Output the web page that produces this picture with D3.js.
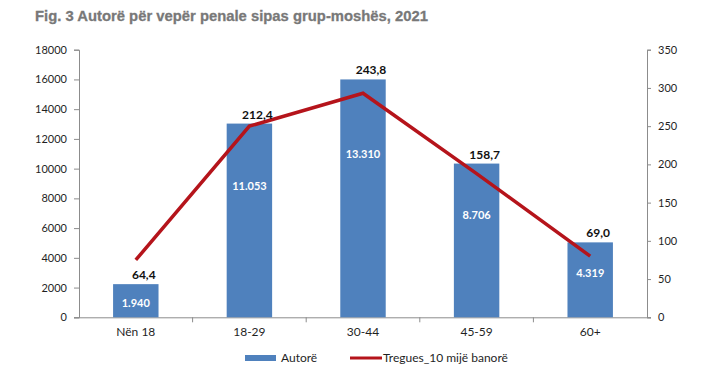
<!DOCTYPE html>
<html>
<head>
<meta charset="utf-8">
<script src="https://cdn.jsdelivr.net/npm/d3@7"></script>
<style>
  html, body { margin: 0; padding: 0; background: #fff; }
  svg { display: block; }
</style>
</head>
<body>
<div id="chart"></div>
<script>
// ---- data ----
const categories = ["Nën 18", "18-29", "30-44", "45-59", "60+"];
const autoreValues = [2230, 13030, 16000, 10340, 5040];        // drawn bar heights
const autoreLabels = ["1.940", "11.053", "13.310", "8.706", "4.319"];
const treguesValues = [75, 250, 293, 188, 80];                 // drawn line points
const treguesLabels = ["64,4", "212,4", "243,8", "158,7", "69,0"];
const leftTicks = [0, 2000, 4000, 6000, 8000, 10000, 12000, 14000, 16000, 18000];
const rightTicks = [0, 50, 100, 150, 200, 250, 300, 350];
const titleText = "Fig. 3 Autorë për vepër penale sipas grup-moshës, 2021";
const legendNames = ["Autorë", "Tregues_10 mijë banorë"];

const W = 702, H = 387;
const plot = { left: 79, right: 647, top: 49.7, bottom: 317.3 };
const font = "Lato, 'Open Sans', sans-serif";
const axisColor = "#8c8c8c";
const barColor = "#4f81bd";
const lineColor = "#b5141b";
const textColor = "#1f1f1f";

const svg = d3.select("#chart").append("svg").attr("width", W).attr("height", H);

svg.append("text")
  .attr("x", 35).attr("y", 21)
  .attr("font-family", "'Liberation Sans', Arial, sans-serif")
  .attr("font-weight", "bold").attr("font-size", 15)
  .attr("fill", "#787878")
  .attr("stroke", "#787878").attr("stroke-width", 0.3)
  .attr("textLength", 393).attr("lengthAdjust", "spacingAndGlyphs")
  .text(titleText);

const x = d3.scaleBand().domain(categories).range([plot.left, plot.right]).paddingInner(0).paddingOuter(0);
const yL = d3.scaleLinear().domain([0, 18000]).range([plot.bottom, plot.top]);
const yR = d3.scaleLinear().domain([0, 350]).range([plot.bottom, plot.top]);
const barW = x.bandwidth() * 0.4;
const cx = d => x(d) + x.bandwidth() / 2;

// left axis
const gL = svg.append("g").attr("transform", `translate(${plot.left},0)`)
  .call(d3.axisLeft(yL).tickValues(leftTicks).tickSize(5).tickPadding(7).tickFormat(d3.format("d")));
// right axis
const gR = svg.append("g").attr("transform", `translate(${plot.right},0)`)
  .call(d3.axisRight(yR).tickValues(rightTicks).tickSize(4).tickPadding(7).tickFormat(d3.format("d")));
// bottom axis
const gB = svg.append("g").attr("transform", `translate(0,${plot.bottom})`)
  .call(d3.axisBottom(x).tickSize(0).tickPadding(10));

[gL, gR, gB].forEach(g => {
  g.selectAll("path.domain").attr("stroke", axisColor).attr("stroke-width", 1);
  g.selectAll(".tick line").attr("stroke", axisColor);
  g.selectAll("text").attr("font-family", font).attr("font-size", 11).attr("fill", textColor);
});
gB.selectAll("text").attr("font-size", 12);
gB.select("path.domain").attr("d", `M${plot.left - 5},0.5H${plot.right + 4}`);
// category boundary ticks
svg.append("g").selectAll("line")
  .data(categories.slice(1))
  .join("line")
  .attr("x1", d => x(d)).attr("x2", d => x(d))
  .attr("y1", plot.bottom).attr("y2", plot.bottom + 5)
  .attr("stroke", axisColor);

// bars
svg.append("g").selectAll("rect")
  .data(categories)
  .join("rect")
  .attr("x", d => cx(d) - barW / 2)
  .attr("width", barW)
  .attr("y", (d, i) => yL(autoreValues[i]))
  .attr("height", (d, i) => plot.bottom - yL(autoreValues[i]))
  .attr("fill", barColor);

// bar value labels (white)
svg.append("g").selectAll("text")
  .data(categories)
  .join("text")
  .attr("x", d => cx(d))
  .attr("y", (d, i) => {
    const top = yL(autoreValues[i]);
    const h = plot.bottom - top;
    return top + 10 + 0.27 * h + 4;
  })
  .attr("text-anchor", "middle")
  .attr("font-family", font).attr("font-weight", "bold").attr("font-size", 11)
  .attr("fill", "#fff")
  .text((d, i) => autoreLabels[i]);

// line
const line = d3.line().x(d => cx(d)).y((d, i) => yR(treguesValues[i]));
svg.append("path")
  .datum(categories)
  .attr("d", line)
  .attr("fill", "none")
  .attr("stroke", lineColor)
  .attr("stroke-width", 3.5)
  .attr("stroke-linejoin", "miter");

// line value labels (above bars)
svg.append("g").selectAll("text")
  .data(categories)
  .join("text")
  .attr("x", d => cx(d) + 8)
  .attr("y", (d, i) => yL(autoreValues[i]) - 5)
  .attr("text-anchor", "middle")
  .attr("font-family", font).attr("font-weight", "bold").attr("font-size", 12)
  .attr("fill", "#111")
  .text((d, i) => treguesLabels[i]);

// legend
const lg = svg.append("g");
lg.append("rect").attr("x", 245).attr("y", 355).attr("width", 31).attr("height", 6).attr("fill", barColor);
lg.append("text").attr("x", 281).attr("y", 362)
  .attr("font-family", font).attr("font-size", 12).attr("fill", textColor).text(legendNames[0]);
lg.append("line").attr("x1", 350).attr("x2", 382).attr("y1", 358).attr("y2", 358)
  .attr("stroke", lineColor).attr("stroke-width", 3);
lg.append("text").attr("x", 383).attr("y", 362)
  .attr("font-family", font).attr("font-size", 12).attr("fill", textColor).text(legendNames[1]);
</script>
</body>
</html>
